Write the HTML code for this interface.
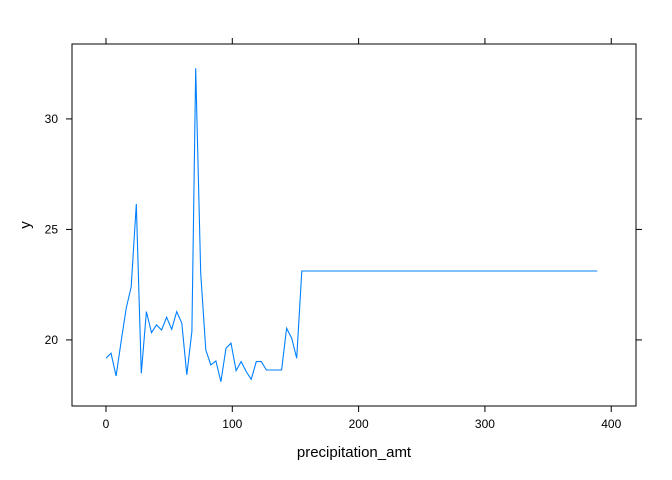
<!DOCTYPE html>
<html><head><meta charset="utf-8"><style>
body{margin:0;background:#fff;}
svg{display:block;font-family:"Liberation Sans",sans-serif;}
</style></head><body>
<svg id="chart" width="672" height="480"></svg>
<script>
const xValues=[0,4,8,12,16,20,24,28,32,36,40,44,48,52,56,60,64,68,71,75,79,83,87,91,95,99,103,107,111,115,119,123,127,139,143,147,151,155,389];
const yValues=[19.17,19.40,18.37,19.92,21.43,22.41,26.15,18.49,21.28,20.33,20.68,20.45,21.03,20.48,21.28,20.76,18.42,20.38,32.29,23.02,19.55,18.87,19.05,18.11,19.62,19.85,18.61,19.02,18.57,18.22,19.02,19.02,18.64,18.64,20.53,20.08,19.17,23.12,23.12];
const xTicks=[0,100,200,300,400];
const yTicks=[20,25,30];
const L=72,R=636,T=44,B=406;
const xMin=-26.9,xMax=419.6,yMin=17.01,yMax=33.39;
const sx=v=>L+(v-xMin)/(xMax-xMin)*(R-L);
const sy=v=>B-(v-yMin)/(yMax-yMin)*(B-T);
const NS="http://www.w3.org/2000/svg";
const svg=document.getElementById('chart');
function mk(tag,at,parent){const e=document.createElementNS(NS,tag);for(const k in at)e.setAttribute(k,at[k]);(parent||svg).appendChild(e);return e;}
const box=mk('rect',{x:L,y:T,width:R-L,height:B-T,fill:'none',stroke:'#000','stroke-width':1});


xTicks.forEach(t=>{
  const x=sx(t);
  const a=mk('line',{x1:x,x2:x,y1:B,y2:B+6,stroke:'#000'});
  
  
  const b=mk('line',{x1:x,x2:x,y1:T,y2:T-6,stroke:'#000'});
  
  
  const tx=mk('text',{x:x,y:B+22,'text-anchor':'middle','font-size':12,fill:'#000'});
  tx.textContent=t;
  
  
});
yTicks.forEach(t=>{
  const y=sy(t);
  const a=mk('line',{x1:L,x2:L-6,y1:y,y2:y,stroke:'#000'});
  
  
  const b=mk('line',{x1:R,x2:R+6,y1:y,y2:y,stroke:'#000'});
  
  
  const tx=mk('text',{x:L-14,y:y+4,'text-anchor':'end','font-size':12,fill:'#000'});
  tx.textContent=t;
  
  
});
const d=xValues.map((v,i)=>(i?'L':'M')+sx(v).toFixed(1)+','+sy(yValues[i]).toFixed(1)).join(' ');
const line=mk('path',{d:d,fill:'none',stroke:'#0080ff','stroke-width':1.1});


const xt=mk('text',{x:(L+R)/2,y:457,'text-anchor':'middle','font-size':15,fill:'#000'});
xt.textContent='precipitation_amt';


const yt=mk('text',{x:0,y:0,'text-anchor':'middle','font-size':15,fill:'#000',transform:'translate(30,225) rotate(-90)'});
yt.textContent='y';


</script>
</body></html>
